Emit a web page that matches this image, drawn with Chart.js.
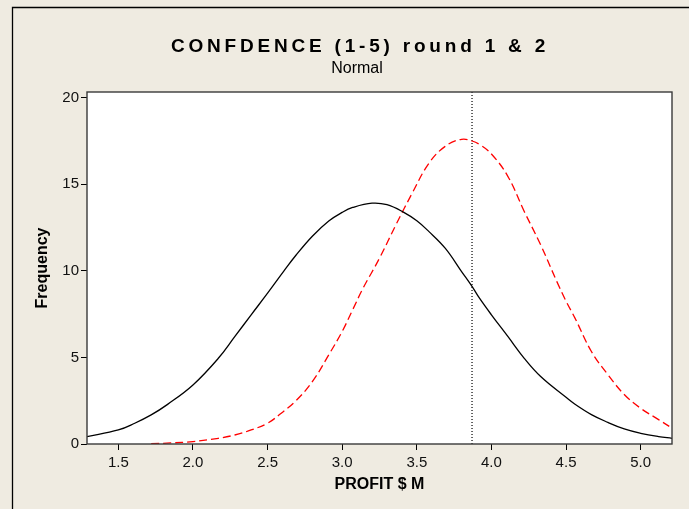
<!DOCTYPE html>
<html>
<head>
<meta charset="utf-8">
<title>CONFDENCE (1-5) round 1 & 2</title>
<script src="https://cdn.jsdelivr.net/npm/chart.js@4/dist/chart.umd.min.js"></script>
<style>
  html, body { margin: 0; padding: 0; background: #efebe1; }
  #wrap { width: 689px; height: 509px; }
</style>
</head>
<body>
<div id="wrap"><canvas id="c" width="689" height="509"></canvas></div>
<script>
// Fitted normal curve, round 1 (solid black)
const profitRound1 = [1.29, 1.5, 1.61, 1.72, 1.83, 2.0, 2.17, 2.28, 2.39, 2.5, 2.61, 2.69, 2.8, 2.91, 3.0, 3.07, 3.2, 3.3, 3.41, 3.5, 3.58, 3.69, 3.8, 3.87, 3.92, 4.0, 4.11, 4.22, 4.33, 4.5, 4.56, 4.67, 4.78, 4.89, 5.0, 5.12, 5.21];
const freqRound1 = [0.43, 0.81, 1.2, 1.68, 2.29, 3.41, 4.95, 6.2, 7.46, 8.71, 10.0, 10.9, 12.0, 12.88, 13.38, 13.66, 13.91, 13.82, 13.39, 12.89, 12.28, 11.31, 9.96, 9.1, 8.42, 7.46, 6.21, 4.95, 3.9, 2.7, 2.3, 1.7, 1.25, 0.87, 0.62, 0.43, 0.33];

// Fitted normal curve, round 2 (red dashed)
const profitRound2 = [1.72, 1.85, 2.0, 2.17, 2.28, 2.39, 2.5, 2.58, 2.69, 2.8, 2.91, 3.0, 3.07, 3.14, 3.25, 3.36, 3.47, 3.58, 3.69, 3.8, 3.87, 3.92, 4.0, 4.11, 4.22, 4.33, 4.44, 4.5, 4.56, 4.67, 4.78, 4.89, 5.0, 5.12, 5.21];
const freqRound2 = [0.02, 0.06, 0.14, 0.33, 0.52, 0.81, 1.2, 1.7, 2.5, 3.6, 5.15, 6.5, 7.75, 9.0, 10.73, 12.66, 14.5, 16.2, 17.19, 17.6, 17.5, 17.3, 16.75, 15.46, 13.43, 11.5, 9.35, 8.25, 7.27, 5.34, 4.01, 2.86, 2.06, 1.41, 0.92];

// Reference line (dotted vertical)
const referenceProfit = 3.87;

// Axis ranges and tick labels
const xRange = [1.29, 5.21];
const yRange = [0, 20.33];
const xTicks = [1.5, 2.0, 2.5, 3.0, 3.5, 4.0, 4.5, 5.0];
const yTicks = [0, 5, 10, 15, 20];

const titleText = 'CONFDENCE (1-5) round 1 & 2';
const subtitleText = 'Normal';
const xTitle = 'PROFIT $ M';
const yTitle = 'Frequency';

const toPoints = (xs, ys) => xs.map((x, i) => ({ x: x, y: ys[i] }));

const frame = {
  id: 'frame',
  beforeDraw(chart) {
    const { ctx, width, height, chartArea: a } = chart;
    ctx.save();
    ctx.fillStyle = '#efebe1';
    ctx.fillRect(0, 0, width, height);
    // outer window edge
    ctx.strokeStyle = '#000';
    ctx.lineWidth = 1.3;
    ctx.beginPath();
    ctx.moveTo(12.5, height);
    ctx.lineTo(12.5, 7.5);
    ctx.lineTo(width, 7.5);
    ctx.stroke();
    ctx.fillStyle = '#ffffff';
    ctx.fillRect(a.left, a.top, a.right - a.left, a.bottom - a.top);
    ctx.restore();
  },
  afterDatasetsDraw(chart) {
    const { ctx, chartArea: a } = chart;
    ctx.save();
    ctx.strokeStyle = '#3a3a3a';
    ctx.lineWidth = 1.4;
    ctx.strokeRect(a.left, a.top, a.right - a.left, a.bottom - a.top);
    ctx.restore();
  },
  afterDraw(chart) {
    const { ctx } = chart;
    ctx.save();
    ctx.fillStyle = '#000';
    ctx.textAlign = 'center';
    ctx.textBaseline = 'alphabetic';
    ctx.font = 'bold 19px "Liberation Sans", Arial, sans-serif';
    ctx.letterSpacing = '3.8px';
    ctx.fillText(titleText, 360, 52);
    ctx.letterSpacing = '0px';
    ctx.font = '16px "Liberation Sans Narrow", "Liberation Sans", Arial, sans-serif';
    ctx.fillText(subtitleText, 357, 73);
    ctx.restore();
  }
};

new Chart(document.getElementById('c'), {
  type: 'line',
  data: {
    datasets: [
      {
        label: 'Round 1',
        data: toPoints(profitRound1, freqRound1),
        borderColor: '#000000',
        borderWidth: 1.3,
        pointRadius: 0,
        tension: 0.4,
        fill: false
      },
      {
        label: 'Round 2',
        data: toPoints(profitRound2, freqRound2),
        borderColor: '#ff0000',
        borderWidth: 1.3,
        borderDash: [8, 4],
        pointRadius: 0,
        tension: 0.4,
        fill: false
      },
      {
        label: 'Reference',
        data: [{ x: referenceProfit, y: yRange[0] }, { x: referenceProfit, y: yRange[1] }],
        borderColor: '#000000',
        borderWidth: 1.2,
        borderDash: [1, 2],
        pointRadius: 0,
        fill: false
      }
    ]
  },
  options: {
    responsive: false,
    animation: false,
    events: [],
    layout: { padding: { left: 0, top: 92, right: 17, bottom: 0 } },
    plugins: {
      legend: { display: false },
      title: { display: false },
      tooltip: { enabled: false }
    },
    scales: {
      x: {
        type: 'linear',
        min: xRange[0],
        max: xRange[1],
        afterFit(scale) { scale.height = 65; },
        afterBuildTicks(scale) { scale.ticks = xTicks.map(v => ({ value: v })); },
        border: { display: false },
        grid: { drawOnChartArea: false, drawTicks: true, tickLength: 6, tickColor: '#000', tickWidth: 1 },
        ticks: {
          padding: 4,
          color: '#111',
          font: { family: '"Liberation Sans", Arial, sans-serif', size: 15 },
          callback: v => Number(v).toFixed(1),
          maxRotation: 0,
          autoSkip: false
        },
        title: {
          display: true,
          text: xTitle,
          color: '#000',
          font: { family: '"Liberation Sans", Arial, sans-serif', size: 16, weight: 'bold' },
          padding: { top: 0, bottom: 15 }
        }
      },
      y: {
        type: 'linear',
        min: yRange[0],
        max: yRange[1],
        afterFit(scale) { scale.width = 87; },
        afterBuildTicks(scale) { scale.ticks = yTicks.map(v => ({ value: v })); },
        border: { display: false },
        grid: { drawOnChartArea: false, drawTicks: true, tickLength: 6, tickColor: '#000', tickWidth: 1 },
        ticks: {
          padding: 2,
          color: '#111',
          font: { family: '"Liberation Sans", Arial, sans-serif', size: 15 },
          callback: v => String(v),
          autoSkip: false
        },
        title: {
          display: true,
          text: yTitle,
          color: '#000',
          font: { family: '"Liberation Sans", Arial, sans-serif', size: 16, weight: 'bold' },
          padding: { top: 33, bottom: 0 }
        }
      }
    }
  },
  plugins: [frame]
});
</script>
</body>
</html>
